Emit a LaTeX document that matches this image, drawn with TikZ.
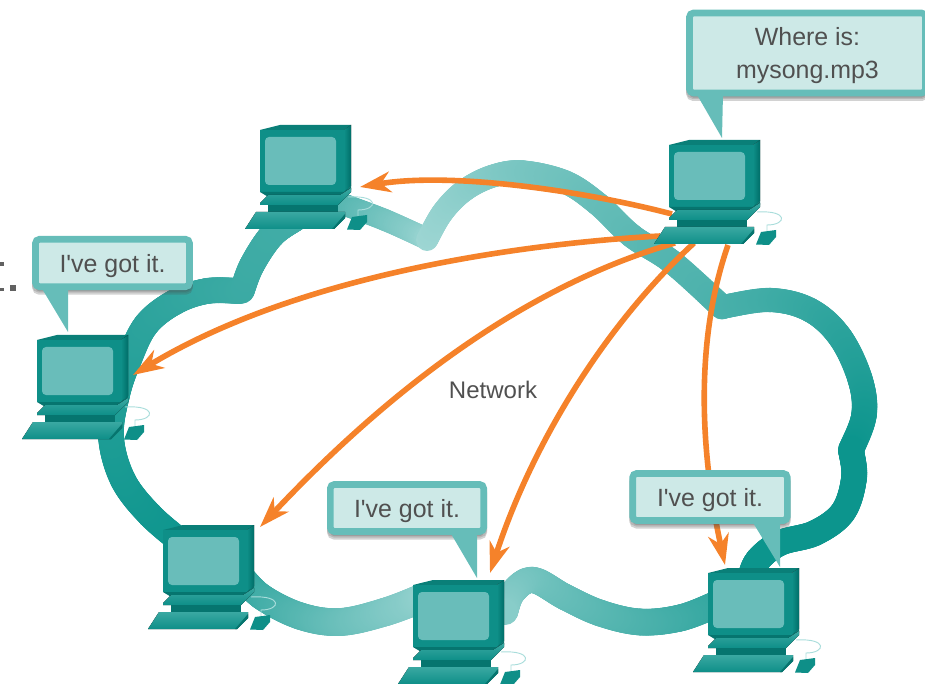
\documentclass[tikz,border=0pt]{standalone}
\usepackage{fontspec}
\newfontfamily\labelfont{Liberation Sans}
\usetikzlibrary{arrows.meta,shadows}
\definecolor{banddark}{HTML}{0C958D}
\definecolor{bandlight}{HTML}{B2DFDD}
\definecolor{bubbleedge}{HTML}{66BDB9}
\definecolor{bubblefill}{HTML}{CDE9E7}
\definecolor{txt}{HTML}{505050}
\definecolor{pcfront}{HTML}{0E8F88}
\definecolor{pcscreen}{HTML}{69BDBA}
\definecolor{pcside}{HTML}{006E68}
\definecolor{pctop}{HTML}{0A7F78}
\definecolor{pclight}{HTML}{3AA8A2}
\definecolor{pcneck}{HTML}{06756F}
\definecolor{cablec}{HTML}{A9DDDB}
\definecolor{arrowc}{HTML}{F5822A}
\newcommand\lowered[1]{\raisebox{-2pt}[\height][\depth]{#1}}
% band stroke with varying colour and width: Catmull-Rom through x/y points
\newcommand\bandseg[5]{%
  \foreach \qx/\qy [count=\qi] in {#5} {%
    \expandafter\xdef\csname qqx\qi\endcsname{\qx}%
    \expandafter\xdef\csname qqy\qi\endcsname{\qy}%
    \xdef\qqn{\qi}}%
  \pgfmathtruncatemacro\qqs{\qqn-1}%
  \foreach \si in {1,...,\qqs} {%
    \pgfmathtruncatemacro\ia{max(\si-1,1)}%
    \pgfmathtruncatemacro\ib{\si+1}%
    \pgfmathtruncatemacro\ic{min(\si+2,\qqn)}%
    \edef\xa{\csname qqx\ia\endcsname}\edef\ya{\csname qqy\ia\endcsname}%
    \edef\xb{\csname qqx\si\endcsname}\edef\yb{\csname qqy\si\endcsname}%
    \edef\xc{\csname qqx\ib\endcsname}\edef\yc{\csname qqy\ib\endcsname}%
    \edef\xd{\csname qqx\ic\endcsname}\edef\yd{\csname qqy\ic\endcsname}%
    \foreach \k in {0,...,24} {%
      \pgfmathsetmacro\tt{\k/24}%
      \pgfmathsetmacro\uu{(\si-1+\tt)/\qqs}%
      \pgfmathsetmacro\px{.5*(2*\xb+(\xc-\xa)*\tt+(2*\xa-5*\xb+4*\xc-\xd)*\tt*\tt+(3*\xb-\xa-3*\xc+\xd)*\tt*\tt*\tt)}%
      \pgfmathsetmacro\py{.5*(2*\yb+(\yc-\ya)*\tt+(2*\ya-5*\yb+4*\yc-\yd)*\tt*\tt+(3*\yb-\ya-3*\yc+\yd)*\tt*\tt*\tt)}%
      \pgfmathsetmacro\mymix{#1+(#2-#1)*\uu}%
      \pgfmathsetmacro\myrad{0.375*(#3+(#4-#3)*\uu)}%
      \fill[banddark!\mymix!bandlight] (\px,\py) circle[radius=\myrad pt];%
    }%
  }%
}
\tikzset{
  bubble/.style={draw=bubbleedge,fill=bubblefill,line width=5pt,rounded corners=3pt,inner sep=0pt,
    text=txt,font=\labelfont\fontsize{18.7}{24.3}\selectfont,align=center,
    general shadow={fill=black!70,draw=black!70,line width=5pt,opacity=.2,shadow yshift=-2pt},
    general shadow={fill=black!70,draw=black!70,line width=5pt,opacity=.25,shadow yshift=-3.5pt}},
  tail/.style={fill=bubbleedge},
  flow/.style={draw=arrowc,line width=4.2pt,-{Stealth[length=23pt,width=15.5pt,inset=7pt]}},
  computer/.pic={
    \coordinate (-c) at (45,30);
    % cable
    \draw[cablec,line width=.7pt] (98,86) -- (98,80) .. controls (118,80) and (120,65) .. (88,67);
    % monitor
    \fill[pctop] (0,0) -- (20,-5) -- (91,-5) -- (84,0) -- cycle;
    \fill[left color=pcfront,right color=pcside] (84,0) -- (91,-5) -- (91,56) -- (84,62) -- cycle;
    \fill[pcfront] (0,0) rectangle (84,62);
    \fill[pcscreen,rounded corners=3pt] (5,7) rectangle (76,55);
    % stand
    \fill[pcneck] (0,62) -- (84,62) -- (91,56) -- (91,60) -- (78,72) -- (10,68) -- cycle;
    \fill[top color=pclight,bottom color=pcfront] (0,73) -- (8,65) -- (80,65) -- (91,58) -- (91,62) -- (78,75) -- (0,75) -- cycle;
    \fill[pcneck] (8,75) rectangle (78,82);
    % keyboard
    \fill[top color=pclight,bottom color=pcfront] (-15,99) -- (-4,82) -- (85,82) -- (85,88) -- (74,99) -- cycle;
    \fill[pcneck] (74,99) -- (85,88) -- (85,84) -- (72,99) -- cycle;
    % mouse
    \fill[pcfront] (87,99.5) -- (92,87) -- (107,85) -- (107,92) -- (100,100) -- cycle;
  }
}
\begin{document}
\begin{tikzpicture}[x=0.75pt,y=-0.75pt]
\useasboundingbox (0,0) rectangle (925,684);
\clip (0,0) rectangle (925,684);
% stray marks at the left edge
\fill[txt!90] (0,262) rectangle (4,266);
\fill[txt!90] (0,288) rectangle (4,291);
\fill[txt!90] (10,285) rectangle (16,291);
% cloud
\bandseg{100}{72}{26}{26}{185/545,150/515,123/480,111/437,117/395,128/362,146/325,175/302,207/291,240/291}
\bandseg{72}{68}{25}{27}{242/291,252/265,272/235,295/218}
\bandseg{58}{18}{22}{22}{345/205,385/220,425/238}
\bandseg{12}{62}{22}{25}{427/240,443/212,465/190,493/176,523/172,565/182,598/204,632/236,672/262,722/307}
\bandseg{62}{100}{24}{26}{722/307,770/300,810/310,840/337,860/379,864/415,851/450}
\bandseg{100}{100}{26}{26}{851/450,854/478,843/512,815/533,780/543,758/560,750/578}
\bandseg{78}{25}{27}{26}{715/605,680/618,640/622,600/613,565/597,533/580,513/592,505/612}
\bandseg{82}{20}{26}{29}{240/575,262/597,300/616,340/622,385/612,425/597}
% arrows
\coordinate (a1s) at (672,214); \coordinate (a1e) at (360,187);
\coordinate (a2s) at (660,236); \coordinate (a2e) at (133,375);
\coordinate (a3s) at (675,243); \coordinate (a3e) at (260,527);
\coordinate (a4s) at (694,243); \coordinate (a4e) at (490,573);
\coordinate (a5s) at (728,245); \coordinate (a5e) at (725,565);
\draw[flow] (a1s) .. controls (580,190) and (450,172) .. (a1e);
\draw[flow] (a2s) .. controls (500,245) and (290,280) .. (a2e);
\draw[flow] (a3s) .. controls (510,290) and (370,410) .. (a3e);
\draw[flow] (a4s) .. controls (600,330) and (530,450) .. (a4e);
\draw[flow] (a5s) .. controls (695,340) and (700,450) .. (a5e);
% computers
\pic (pc1) at (669,145) {computer};
\pic (pc2) at (260,130) {computer};
\pic (pc3) at (37,340) {computer};
\pic (pc4) at (163,530) {computer};
\pic (pc5) at (413,585) {computer};
\pic (pc6) at (708,573) {computer};
% text
\node[text=txt,font=\labelfont\fontsize{18}{22}\selectfont,inner sep=0pt] (net) at (493,390) {Network};
% bubbles
\node[bubble,minimum width=177pt,minimum height=60pt] (b1) at (807.5,53) {\lowered{Where is:}\\\lowered{mysong.mp3}};
\fill[tail] (696,93) -- (722,138) -- (723,93) -- cycle;
\node[bubble,minimum width=115.5pt,minimum height=35.6pt] (b2) at (112.5,263) {\lowered{I've got it.}};
\fill[tail] (41,287) -- (68,332) -- (68,287) -- cycle;
\node[bubble,minimum width=115pt,minimum height=35.3pt] (b3) at (407,508) {\lowered{I've got it.}};
\fill[tail] (450,532) -- (477,578) -- (477,532) -- cycle;
\node[bubble,minimum width=116pt,minimum height=35.3pt] (b4) at (710,497) {\lowered{I've got it.}};
\fill[tail] (752,521) -- (780,567) -- (780,521) -- cycle;
\end{tikzpicture}
\end{document}
